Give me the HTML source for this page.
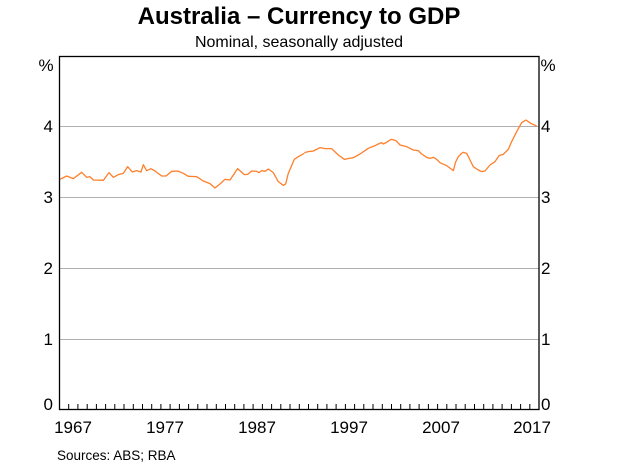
<!DOCTYPE html>
<html><head><meta charset="utf-8"><style>
body{margin:0;background:#fff;}
svg text{font-family:"Liberation Sans",Arial,sans-serif;fill:#000;}
</style></head><body>
<svg width="619" height="467" viewBox="0 0 619 467" xmlns="http://www.w3.org/2000/svg">
<text x="299" y="24" font-size="24" font-weight="bold" text-anchor="middle">Australia – Currency to GDP</text>
<text x="299" y="47" font-size="16" text-anchor="middle">Nominal, seasonally adjusted</text>
<g stroke="#b0b0b0" stroke-width="1">
<line x1="59.5" x2="539" y1="126.5" y2="126.5"/>
<line x1="59.5" x2="539" y1="197.5" y2="197.5"/>
<line x1="59.5" x2="539" y1="268.5" y2="268.5"/>
<line x1="59.5" x2="539" y1="339.5" y2="339.5"/>
</g>
<g fill="none" stroke="#ff7f2a" stroke-width="1.3" stroke-linejoin="round">
<polyline transform="translate(55,100) scale(0.3333)" vector-effect="non-scaling-stroke" points="15,238 35,228 55,236 80,217 95,232 105,230 115,240 145,241 162,218 175,232 190,224 205,220 218,200 232,216 245,212 258,216 265,194 275,212 288,206 300,213 320,228 333,228 350,214 368,213 385,220 400,229 425,230 445,243 465,251 480,264 495,252 510,238 525,240 548,206 568,224 578,223 590,213 605,214 612,218 620,212 630,214 640,207 655,218 670,245 685,256 692,252 700,220 718,178 730,170 748,160"/>
<polyline transform="translate(290,100) scale(0.3333)" vector-effect="non-scaling-stroke" points="43,158 55,155 70,153 90,143 105,146 125,146 145,165 163,178 190,173 210,162 235,145 255,137 265,132 275,128 280,132 290,127 300,120 305,118 318,122 330,135 350,140 370,150 385,152 395,162 410,172 420,175 430,172 440,178 450,188 470,197 490,212 497,186 505,170 515,160 520,157 530,160 540,180 550,200 565,210 575,215 585,213 600,195 615,185 628,166 640,163 655,148 665,125 680,95 695,68 708,60 722,70 740,78"/>
</g>
<rect x="59.5" y="56.5" width="479.5" height="353" fill="none" stroke="#000" stroke-width="1.3"/>
<path stroke="#000" stroke-width="1" fill="none" d="M68.7 404V409.5M77.9 404V409.5M87.2 404V409.5M96.4 404V409.5M105.6 404V409.5M114.8 404V409.5M124.0 404V409.5M133.3 404V409.5M142.5 404V409.5M151.7 404V409.5M160.9 404V409.5M170.1 404V409.5M179.4 404V409.5M188.6 404V409.5M197.8 404V409.5M207.0 404V409.5M216.3 404V409.5M225.5 404V409.5M234.7 404V409.5M243.9 404V409.5M253.1 404V409.5M262.4 404V409.5M271.6 404V409.5M280.8 404V409.5M290.0 404V409.5M299.3 404V409.5M308.5 404V409.5M317.7 404V409.5M326.9 404V409.5M336.1 404V409.5M345.4 404V409.5M354.6 404V409.5M363.8 404V409.5M373.0 404V409.5M382.3 404V409.5M391.5 404V409.5M400.7 404V409.5M409.9 404V409.5M419.1 404V409.5M428.4 404V409.5M437.6 404V409.5M446.8 404V409.5M456.0 404V409.5M465.2 404V409.5M474.5 404V409.5M483.7 404V409.5M492.9 404V409.5M502.1 404V409.5M511.4 404V409.5M520.6 404V409.5M529.8 404V409.5"/>
<g font-size="17">
<text x="46" y="71" text-anchor="middle">%</text>
<text x="548" y="71" text-anchor="middle">%</text>
<text x="53" y="132" text-anchor="end">4</text>
<text x="53" y="203" text-anchor="end">3</text>
<text x="53" y="274" text-anchor="end">2</text>
<text x="53" y="345" text-anchor="end">1</text>
<text x="53" y="410" text-anchor="end">0</text>
<text x="541" y="132">4</text>
<text x="541" y="203">3</text>
<text x="541" y="274">2</text>
<text x="541" y="345">1</text>
<text x="541" y="410">0</text>
<text x="73" y="433" text-anchor="middle">1967</text>
<text x="165" y="433" text-anchor="middle">1977</text>
<text x="257" y="433" text-anchor="middle">1987</text>
<text x="349" y="433" text-anchor="middle">1997</text>
<text x="441" y="433" text-anchor="middle">2007</text>
<text x="532" y="433" text-anchor="middle">2017</text>
</g>
<text x="57" y="460" font-size="13.5">Sources:   ABS; RBA</text>
</svg>
</body></html>
